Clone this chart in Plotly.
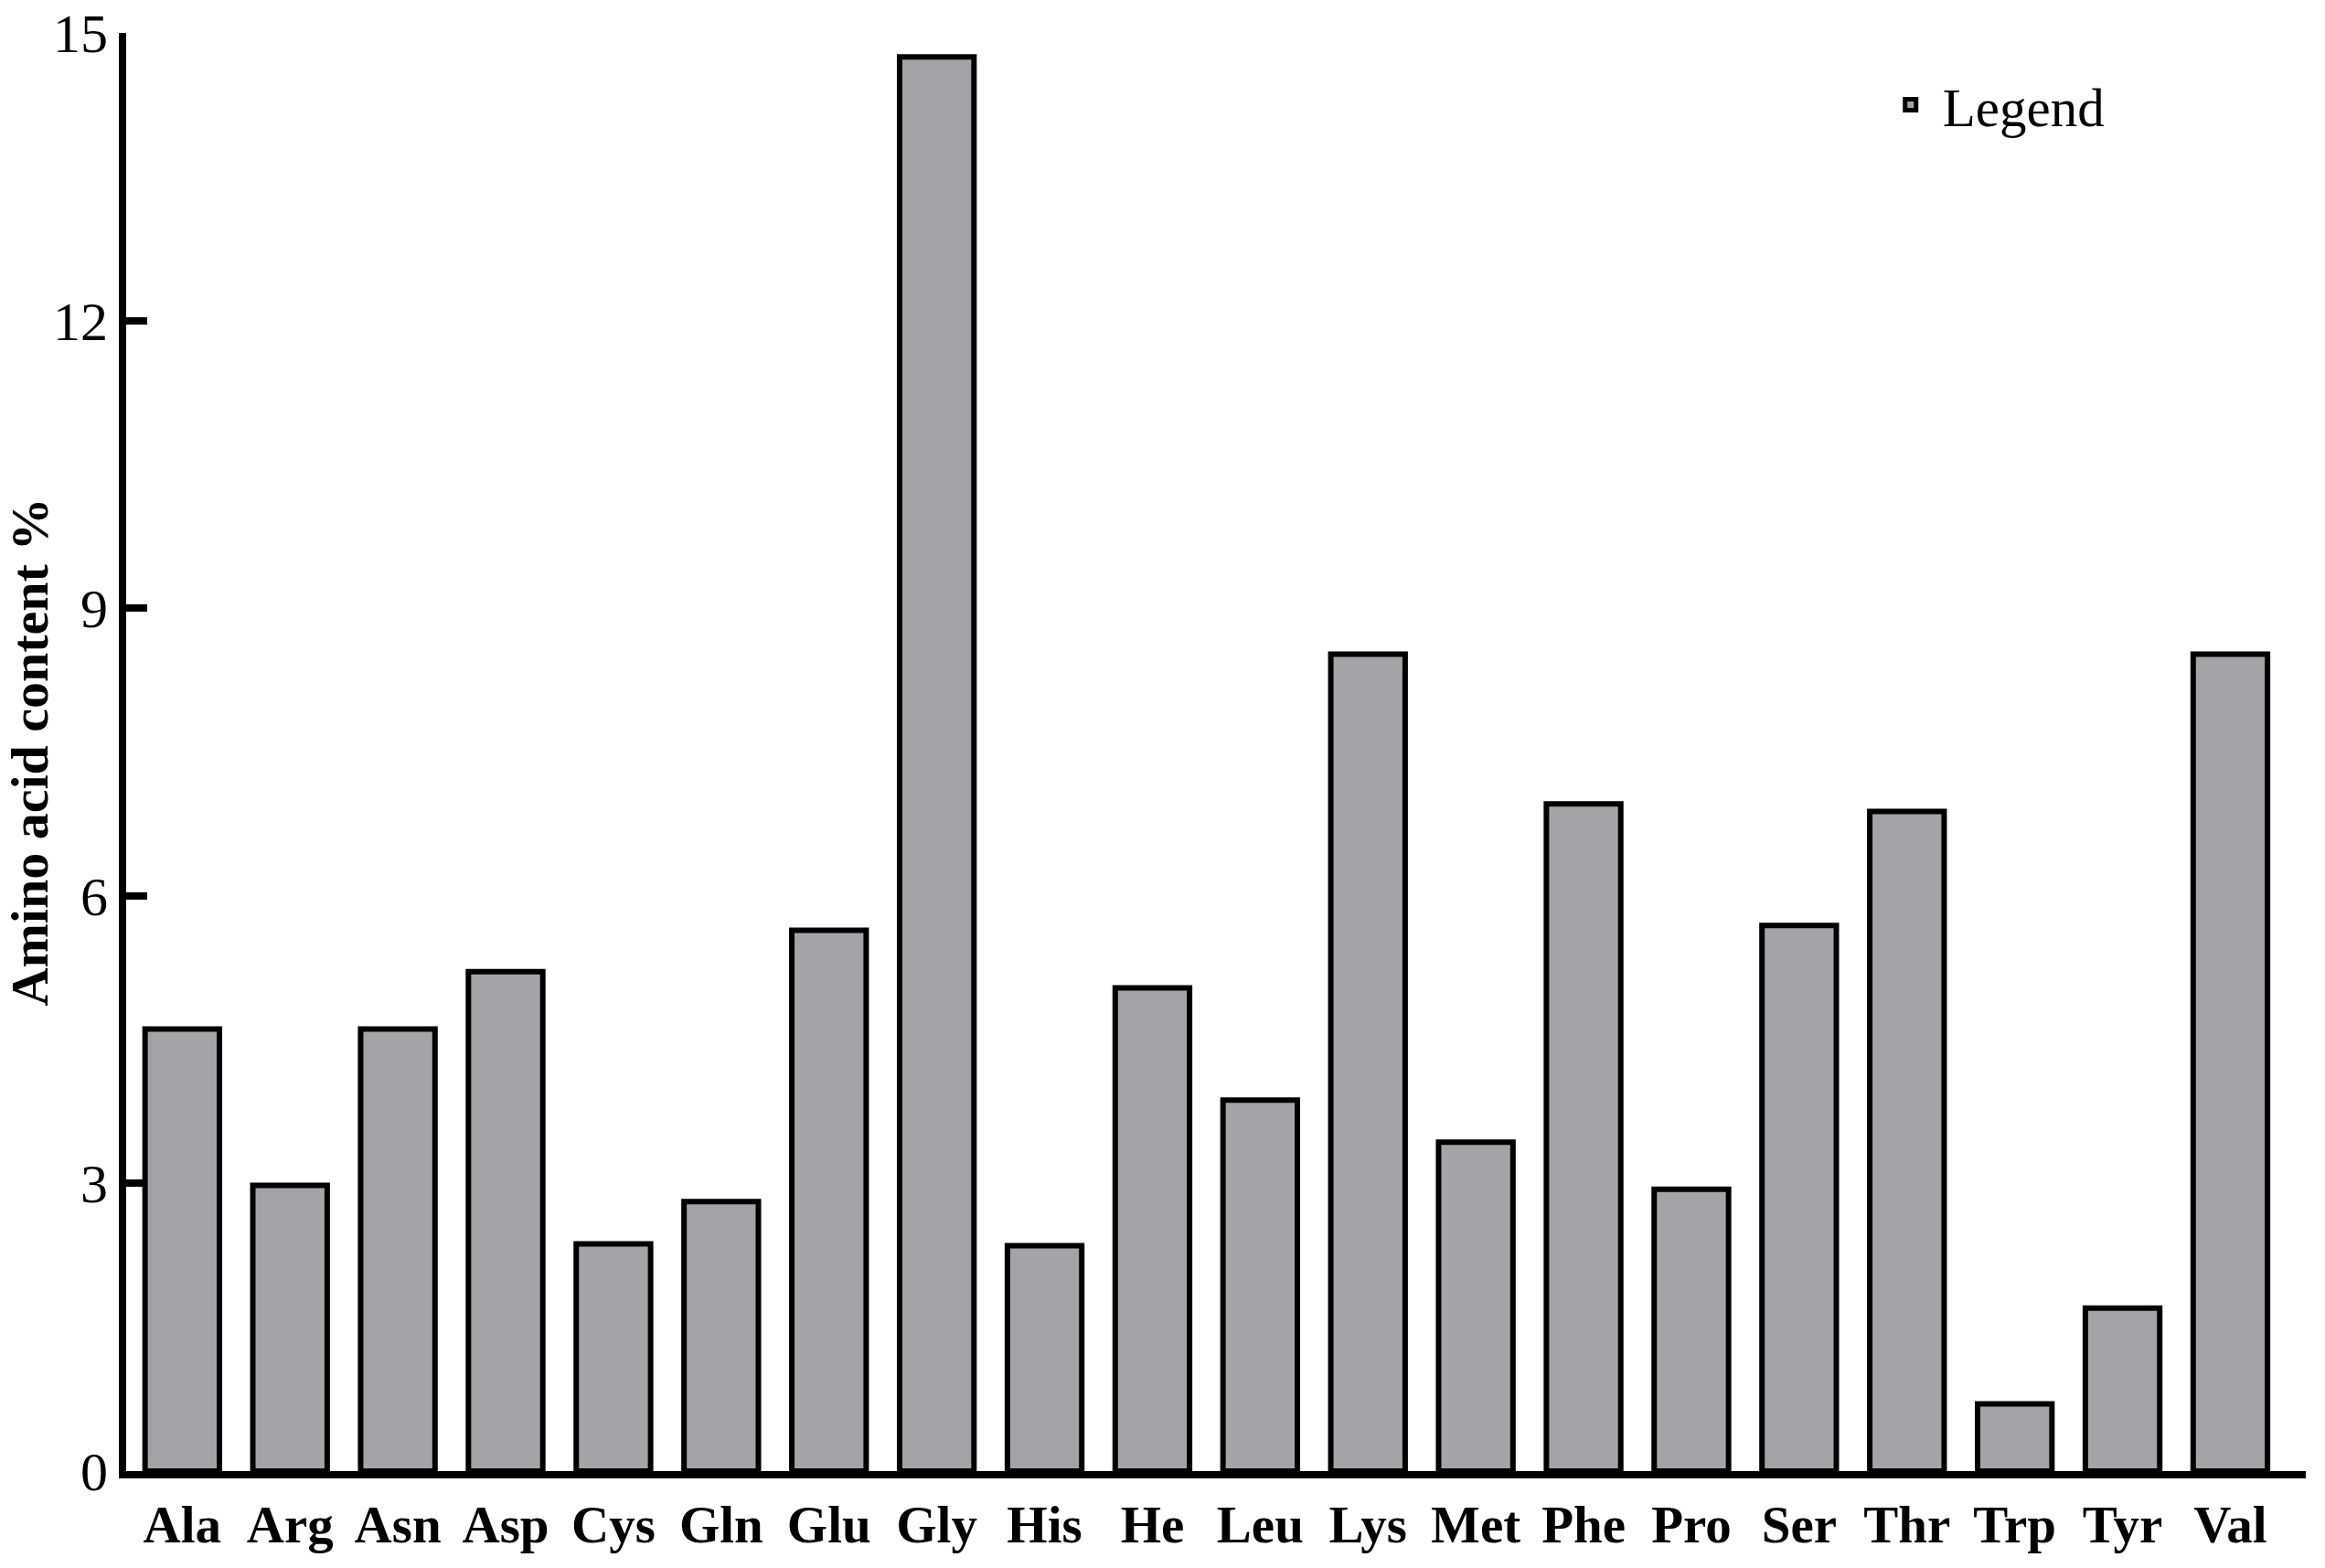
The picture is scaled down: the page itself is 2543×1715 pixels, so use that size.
import plotly.graph_objects as go

categories = ["Ala", "Arg", "Asn", "Asp", "Cys", "Gln", "Glu", "Gly", "His", "He",
              "Leu", "Lys", "Met", "Phe", "Pro", "Ser", "Thr", "Trp", "Tyr", "Val"]
values = [4.61, 2.98, 4.61, 5.21, 2.37, 2.81, 5.64, 14.75, 2.35, 5.04,
          3.87, 8.52, 3.43, 6.96, 2.94, 5.69, 6.88, 0.70, 1.70, 8.52]
y_ticks = [0, 3, 6, 9, 12, 15]
series_name = "Legend"

fig = go.Figure()
fig.add_trace(go.Bar(
    x=list(range(len(categories))),
    y=values,
    name=series_name,
    width=0.69,
    marker=dict(color="#a3a4a8", line=dict(color="black", width=6)),
    showlegend=True,
))

fig.update_layout(
    width=2543, height=1715,
    paper_bgcolor="white", plot_bgcolor="white",
    margin=dict(l=138, r=21, t=36, b=106, autoexpand=False),
    font=dict(family="Liberation Serif, Times New Roman, serif", color="black", size=58),
    bargap=0.31,
    legend=dict(
        x=0.804, xanchor="left", y=0.95, yanchor="middle",
        font=dict(size=59, family="Liberation Serif, serif"),
        bgcolor="rgba(0,0,0,0)", itemwidth=60,
    ),
)

fig.update_xaxes(
    range=[-0.52, 19.70],
    tickmode="array",
    tickvals=list(range(len(categories))),
    ticktext=categories,
    ticks="",
    tickfont=dict(size=57, family="Liberation Serif, serif", weight="bold"),
    showline=True, linecolor="black", linewidth=8,
    showgrid=False, zeroline=False,
    ticklabelstandoff=2,
    ticklabeloverflow="allow",
)

fig.update_yaxes(
    range=[0, 15],
    tickmode="array",
    tickvals=y_ticks,
    ticktext=[str(t) for t in y_ticks],
    ticks="inside", ticklen=23, tickwidth=8, tickcolor="black",
    tickfont=dict(size=60, family="Liberation Serif, serif"),
    showline=True, linecolor="black", linewidth=8,
    showgrid=False, zeroline=False,
    ticklabeloverflow="allow",
    title=dict(text="Amino acid content %",
               font=dict(size=58, family="Liberation Serif, serif", weight="bold"),
               standoff=19),
)

fig.write_html("out.html", config={"displayModeBar": False},
               post_script="document.body.style.margin='0';")
